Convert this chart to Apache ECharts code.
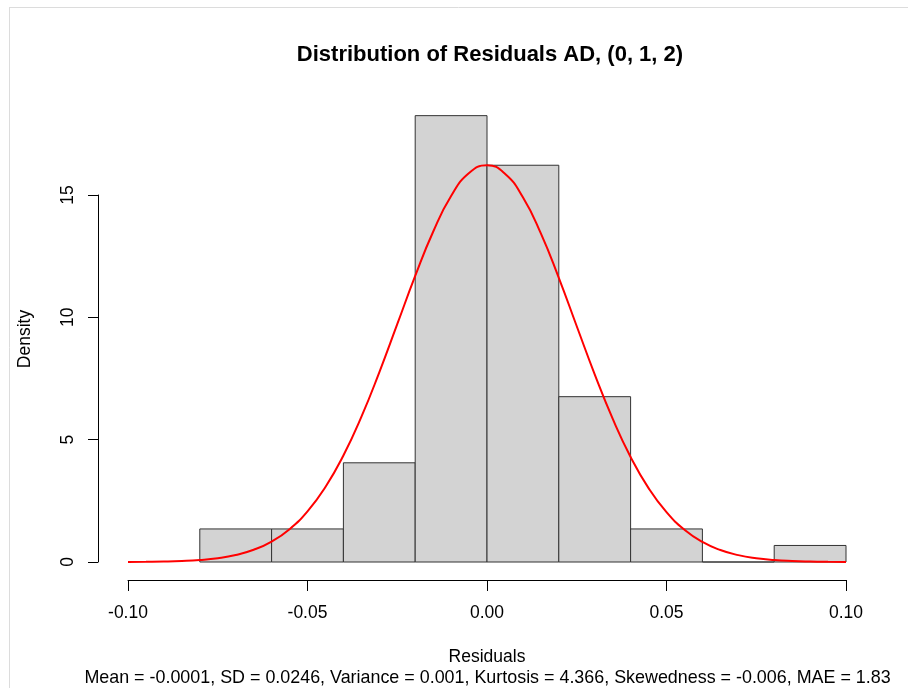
<!DOCTYPE html>
<html>
<head>
<meta charset="utf-8">
<script src="https://cdn.jsdelivr.net/npm/echarts@6/dist/echarts.min.js"></script>
<style>
  html, body { margin: 0; padding: 0; background: #fff; }
  #chart { width: 908px; height: 688px; }
</style>
</head>
<body>
<div id="chart"></div>
<script>
// Histogram bins of the residuals (bin edges, width 0.02) and their densities
var binStarts = [-0.08, -0.06, -0.04, -0.02, 0.00, 0.02, 0.04, 0.06, 0.08];
var binEnds   = [-0.06, -0.04, -0.02, 0.00, 0.02, 0.04, 0.06, 0.08, 0.10];
var binDensity = [1.351, 1.351, 4.054, 18.243, 16.216, 6.757, 1.351, 0, 0.676];

// Fitted density curve (red line)
var curveX = [-0.100, -0.095, -0.090, -0.085, -0.080, -0.075, -0.070, -0.065, -0.060, -0.055,
              -0.050, -0.045, -0.040, -0.035, -0.030, -0.025, -0.020, -0.015, -0.010, -0.005,
               0.000,  0.005,  0.010,  0.015,  0.020,  0.025,  0.030,  0.035,  0.040,  0.045,
               0.050,  0.055,  0.060,  0.065,  0.070,  0.075,  0.080,  0.085,  0.090,  0.095, 0.100];
var curveY = [0.004, 0.010, 0.020, 0.042, 0.083, 0.157, 0.287, 0.500, 0.836, 1.343,
              2.073, 3.067, 4.353, 5.929, 7.753, 9.719, 11.694, 13.499, 14.955, 15.899,
              16.217, 15.872, 14.907, 13.432, 11.614, 9.636, 7.671, 5.859, 4.294, 3.021,
              2.038, 1.320, 0.820, 0.489, 0.280, 0.154, 0.081, 0.041, 0.020, 0.009, 0.004];

var xTicks = { min: -0.1, max: 0.1, step: 0.05 };
var yTicks = { min: 0, max: 15, step: 5 };

var titleText = 'Distribution of Residuals AD, (0, 1, 2)';
var xName = 'Residuals';
var yName = 'Density';
var statsText = 'Mean = -0.0001, SD = 0.0246, Variance = 0.001, Kurtosis = 4.366, Skewedness = -0.006, MAE = 1.83';

var FONT = '"Liberation Sans", Arial, sans-serif';

var bars = binStarts.map(function (s, i) { return [s, binEnds[i], binDensity[i]]; });
var curve = curveX.map(function (x, i) { return [x, curveY[i]]; });

var chart = echarts.init(document.getElementById('chart'), null, { renderer: 'canvas' });

chart.setOption({
  animation: false,
  backgroundColor: '#ffffff',
  grid: { left: 128, right: 62, top: 195, bottom: 126 },
  xAxis: {
    type: 'value',
    min: xTicks.min, max: xTicks.max, interval: xTicks.step,
    offset: 18,
    axisLine: { show: true, onZero: false, lineStyle: { color: '#000', width: 1 } },
    axisTick: { show: true, length: 11, lineStyle: { color: '#000' } },
    axisLabel: {
      margin: 24, fontSize: 17.5, color: '#000', fontFamily: FONT,
      formatter: function (v) { return v.toFixed(2); }
    },
    splitLine: { show: false }
  },
  yAxis: {
    type: 'value',
    min: yTicks.min, max: yTicks.max, interval: yTicks.step,
    offset: 30,
    axisLine: { show: true, onZero: false, lineStyle: { color: '#000', width: 1 } },
    axisTick: { show: true, length: 10, lineStyle: { color: '#000' } },
    axisLabel: { rotate: 90, margin: 21, fontSize: 17.5, color: '#000', fontFamily: FONT },
    splitLine: { show: false }
  },
  series: [
    {
      type: 'custom',
      clip: false,
      data: bars,
      encode: { x: [0, 1], y: 2 },
      renderItem: function (params, api) {
        var p0 = api.coord([api.value(0), 0]);
        var p1 = api.coord([api.value(1), api.value(2)]);
        return {
          type: 'rect',
          shape: { x: p0[0], y: p1[1], width: p1[0] - p0[0], height: p0[1] - p1[1] },
          style: { fill: '#d3d3d3', stroke: '#333333', lineWidth: 1 }
        };
      },
      z: 2
    },
    {
      type: 'line',
      data: curve,
      clip: false,
      smooth: true,
      showSymbol: false,
      lineStyle: { color: '#ff0000', width: 2 },
      z: 3
    }
  ],
  graphic: [
    { type: 'line', shape: { x1: 9, y1: 7.5, x2: 908, y2: 7.5 }, style: { stroke: '#dcdcdc', lineWidth: 1 } },
    { type: 'line', shape: { x1: 9.5, y1: 7, x2: 9.5, y2: 688 }, style: { stroke: '#dcdcdc', lineWidth: 1 } },
    {
      type: 'text', x: 490, y: 55,
      style: { text: titleText, font: 'bold 22px ' + FONT, fill: '#000',
               textAlign: 'center', textVerticalAlign: 'middle' }
    },
    {
      type: 'text', x: 487, y: 657,
      style: { text: xName, font: '17.5px ' + FONT, fill: '#000', textAlign: 'center', textVerticalAlign: 'middle' }
    },
    {
      type: 'text', x: 487.5, y: 678,
      style: { text: statsText, font: '17.9px ' + FONT, fill: '#000', textAlign: 'center', textVerticalAlign: 'middle' }
    },
    {
      type: 'text', x: 25, y: 339, rotation: Math.PI / 2,
      style: { text: yName, font: '17.5px ' + FONT, fill: '#000', textAlign: 'center', textVerticalAlign: 'middle' }
    }
  ]
});
</script>
</body>
</html>
